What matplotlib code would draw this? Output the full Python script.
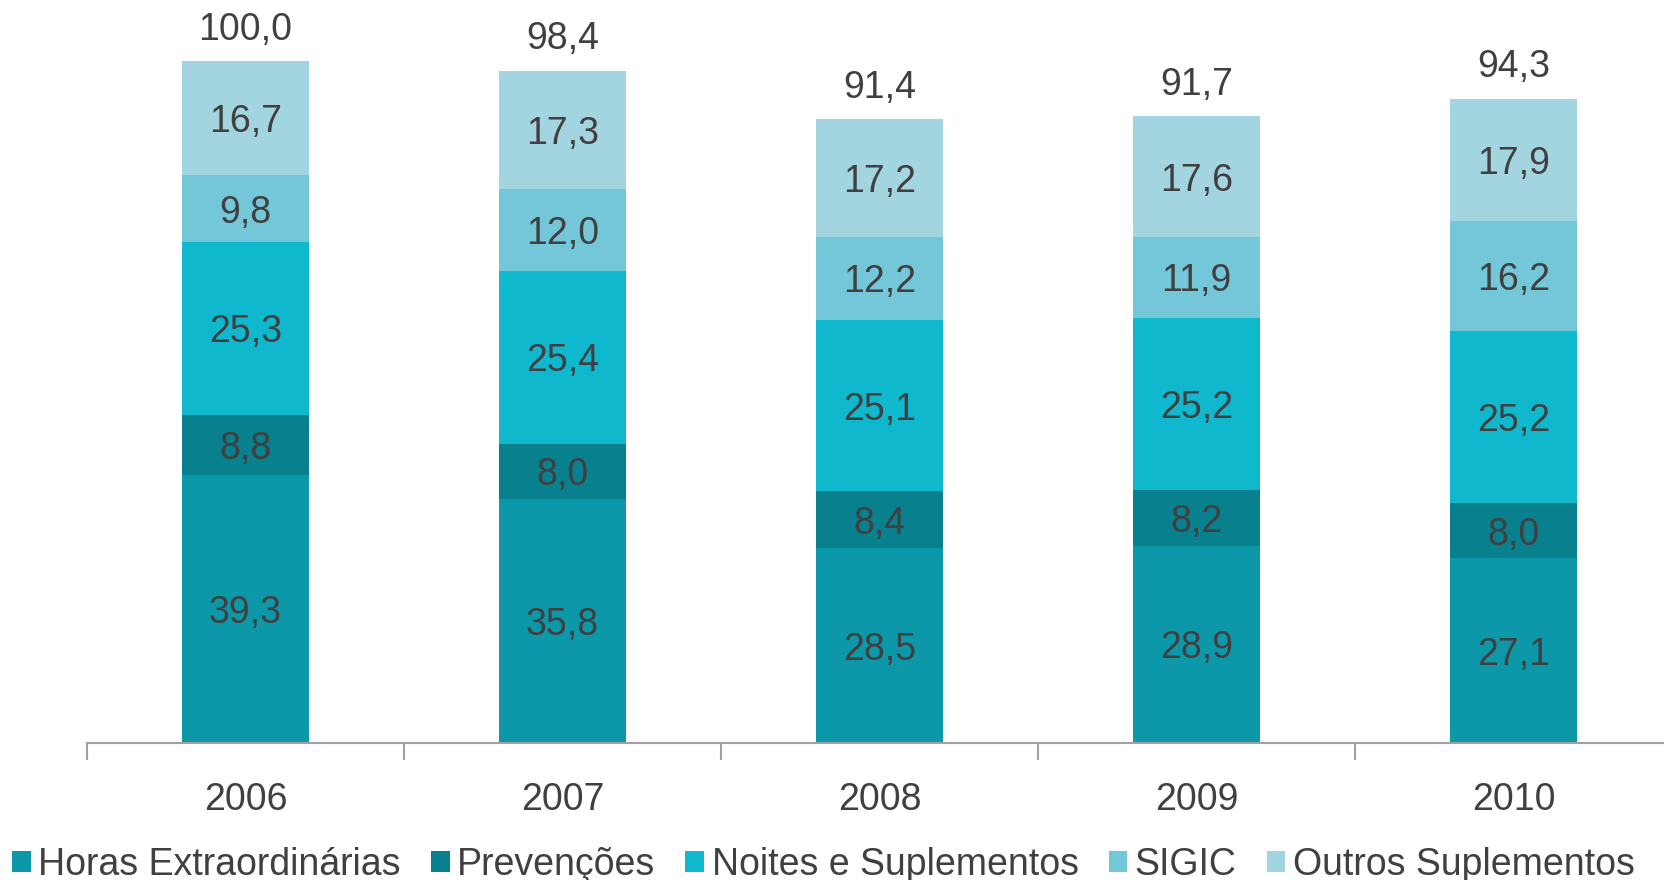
import matplotlib
matplotlib.use("Agg")
import matplotlib.pyplot as plt
import numpy as np

plt.rcParams['font.family'] = ['Liberation Sans', 'DejaVu Sans']

years = ["2006", "2007", "2008", "2009", "2010"]
series_names = ["Horas Extraordinárias", "Prevenções", "Noites e Suplementos", "SIGIC", "Outros Suplementos"]
horas = [39.3, 35.8, 28.5, 28.9, 27.1]
prevencoes = [8.8, 8.0, 8.4, 8.2, 8.0]
noites = [25.3, 25.4, 25.1, 25.2, 25.2]
sigic = [9.8, 12.0, 12.2, 11.9, 16.2]
outros = [16.7, 17.3, 17.2, 17.6, 17.9]
totals = [100.0, 98.4, 91.4, 91.7, 94.3]
colors = ["#0C98A9", "#08808D", "#0FB8CD", "#73C7D8", "#A3D5E0"]

def fmt(v):
    return f"{v:.1f}".replace(".", ",")

FS = 27
fig = plt.figure(figsize=(16.65, 8.8), dpi=100)
ax = fig.add_axes([87/1665, 137/880, 1585/1665, 743/880])
x = np.arange(len(years))
bottom = np.zeros(len(years))
txt = "#404040"
for name, vals, c in zip(series_names, [horas, prevencoes, noites, sigic, outros], colors):
    vals = np.array(vals)
    ax.bar(x, vals, width=0.4, bottom=bottom, color=c, label=name, edgecolor='none')
    for xi, b, v in zip(x, bottom, vals):
        ax.text(xi, b + v/2, fmt(v), ha='center', va='center_baseline', fontsize=FS, color=txt)
    bottom += vals
for xi, b, t in zip(x, bottom, totals):
    ax.text(xi, b + 2.0, fmt(t), ha='center', va='bottom', fontsize=FS, color=txt)

ax.set_xlim(-0.5, 4.5)
ax.set_ylim(0, 743/6.825)
for s in ['top', 'right', 'left']:
    ax.spines[s].set_visible(False)
ax.spines['bottom'].set_color('#A0A0A0')
ax.spines['bottom'].set_linewidth(1.5)
ax.set_yticks([])
ax.set_xticks(np.arange(-0.5, 5.0, 1.0), minor=False)
ax.set_xticklabels([])
ax.tick_params(axis='x', which='major', length=12, color='#A0A0A0', width=1.5, direction='out')
ax.set_xticks(x, minor=True)
ax.set_xticklabels(years, minor=True)
ax.tick_params(axis='x', which='minor', length=0, labelsize=FS, labelcolor=txt, pad=28)

handles, labels = ax.get_legend_handles_labels()
fig.legend(handles, labels, loc='center left', bbox_to_anchor=(12/1665, 15/880),
           ncol=5, frameon=False, fontsize=FS, labelcolor=txt,
           handlelength=0.5, handleheight=0.5, handletextpad=0.2, columnspacing=0.8,
           borderaxespad=0, borderpad=0)

fig.savefig("out.png", dpi=100)
